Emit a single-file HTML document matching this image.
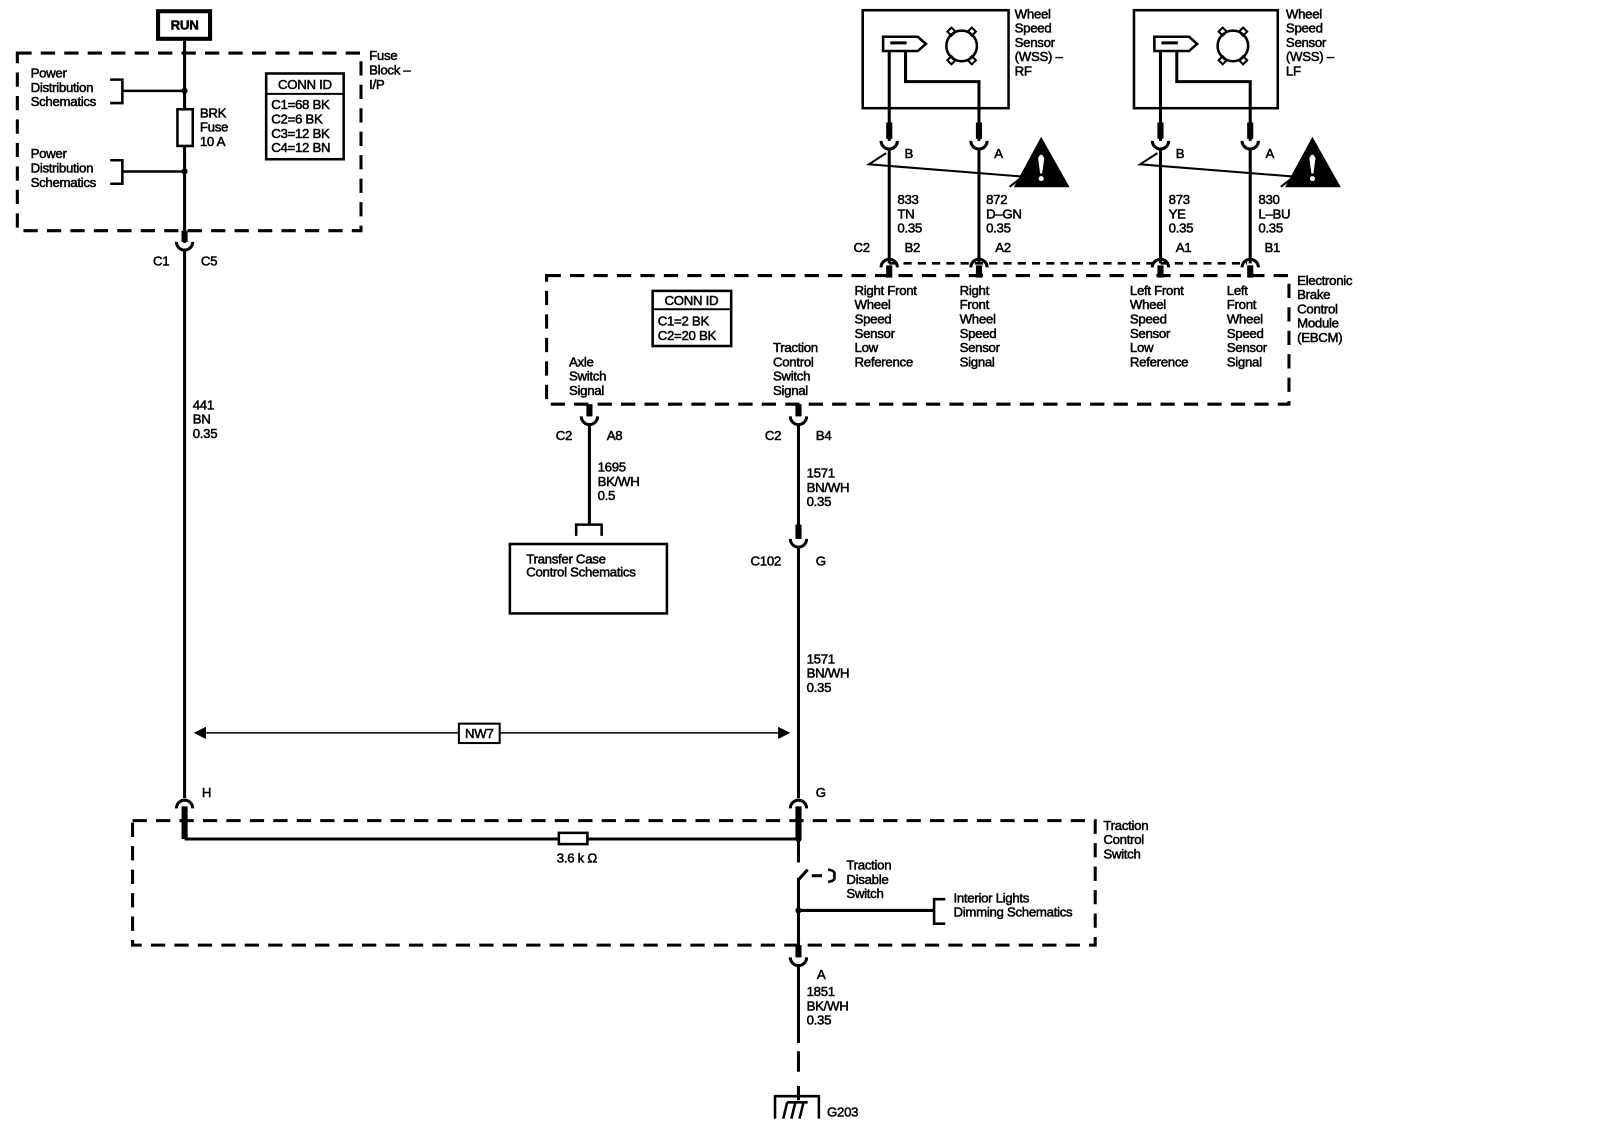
<!DOCTYPE html>
<html><head><meta charset="utf-8"><style>
html,body{margin:0;padding:0;background:#fff}
svg{display:block}
text{font-family:"Liberation Sans",Arial,sans-serif;font-size:13px;fill:#000;stroke:#000;stroke-width:0.5;letter-spacing:-0.3px}
</style></head><body>
<svg width="1600" height="1136" viewBox="0 0 1569 1113" preserveAspectRatio="none" xmlns="http://www.w3.org/2000/svg">
<g fill="none" stroke="#000">
<rect x="155" y="11" width="51" height="27" stroke-width="4"/>
<rect x="17" y="52" width="337" height="174" stroke-width="3" stroke-dasharray="14,9"/>
<line x1="181" y1="38" x2="181" y2="238" stroke-width="3"/>
<line x1="181" y1="226" x2="181" y2="237" stroke-width="6"/>
<path d="M173,237 a8,8 0 0 0 16,0" stroke-width="3"/>
<line x1="181" y1="245" x2="181" y2="782" stroke-width="3"/>
<path d="M108,78 H120 V101 H108" stroke-width="2.5"/>
<line x1="120" y1="89" x2="181" y2="89" stroke-width="2.5"/>
<path d="M108,157 H120 V180 H108" stroke-width="2.5"/>
<line x1="120" y1="168" x2="181" y2="168" stroke-width="2.5"/>
<rect x="174" y="107" width="15" height="36" fill="#fff" stroke-width="2.5"/>
<rect x="261" y="72" width="76" height="84" stroke-width="2.5"/>
<line x1="261" y1="92" x2="337" y2="92" stroke-width="2"/>
<line x1="196" y1="718" x2="768" y2="718" stroke-width="1.5"/>
<rect x="450" y="709" width="40" height="19" fill="#fff" stroke-width="2"/>
<path d="M173,792 a8,8 0 0 1 16,0" stroke-width="3"/>
<line x1="181" y1="790" x2="181" y2="822" stroke-width="6"/>
<line x1="181" y1="822" x2="783" y2="822" stroke-width="3"/>
<rect x="548" y="816" width="28" height="11" fill="#fff" stroke-width="2.5"/>
<rect x="130" y="804" width="944" height="122" stroke-width="3" stroke-dasharray="14,9"/>
<line x1="783" y1="396" x2="783" y2="408" stroke-width="6"/>
<path d="M775,408 a8,8 0 0 0 16,0" stroke-width="3"/>
<line x1="783" y1="416" x2="783" y2="526" stroke-width="3"/>
<line x1="783" y1="514" x2="783" y2="528" stroke-width="6"/>
<path d="M775,528 a8,8 0 0 0 16,0" stroke-width="3"/>
<line x1="783" y1="536" x2="783" y2="782" stroke-width="3"/>
<path d="M775,792 a8,8 0 0 1 16,0" stroke-width="3"/>
<line x1="783" y1="790" x2="783" y2="822" stroke-width="6"/>
<line x1="783" y1="822" x2="783" y2="845" stroke-width="3"/>
<line x1="783" y1="862" x2="792" y2="852" stroke-width="3"/>
<line x1="796" y1="858" x2="806" y2="858" stroke-width="3"/>
<path d="M812,852 Q820,853 818,858 Q820,863 812,864" stroke-width="2.5"/>
<line x1="783" y1="860" x2="783" y2="928" stroke-width="3"/>
<line x1="783" y1="892" x2="916" y2="892" stroke-width="3"/>
<path d="M927,881 H916 V905 H927" stroke-width="2.5"/>
<line x1="783" y1="926" x2="783" y2="938" stroke-width="6"/>
<path d="M775,938 a8,8 0 0 0 16,0" stroke-width="3"/>
<line x1="783" y1="946" x2="783" y2="1022" stroke-width="3"/>
<line x1="783" y1="1030" x2="783" y2="1078" stroke-width="3" stroke-dasharray="20,14"/>
<path d="M760,1096 V1074 H803 V1096" stroke-width="2.5"/>
<path d="M768,1096 L772,1080 M776,1096 L780,1080 M784,1096 L788,1080 M772,1080 H792" stroke-width="2.5"/>
<line x1="578" y1="396" x2="578" y2="408" stroke-width="6"/>
<path d="M570,408 a8,8 0 0 0 16,0" stroke-width="3"/>
<line x1="578" y1="416" x2="578" y2="514" stroke-width="3"/>
<path d="M565,525 V514 H590 V525" stroke-width="2.5"/>
<rect x="500" y="533" width="154" height="68" stroke-width="2.5"/>
<rect x="536" y="270" width="728" height="126" stroke-width="3" stroke-dasharray="14,9"/>
<rect x="640" y="285" width="77" height="54" stroke-width="2.5"/>
<line x1="640" y1="303" x2="717" y2="303" stroke-width="2"/>
<line x1="872" y1="258" x2="1223" y2="258" stroke-width="2.5" stroke-dasharray="8,6"/>
<rect x="846" y="10" width="143" height="96" stroke-width="2.5"/>
<rect x="1112" y="10" width="141" height="96" stroke-width="2.5"/>
</g>
<g id="rf" fill="none" stroke="#000">
<path d="M866,36 H900 L908,43 L900,50 H866 Z" stroke-width="2.5"/>
<line x1="873" y1="42" x2="889" y2="42" stroke-width="3"/>
<circle cx="943" cy="45" r="15" stroke-width="2.5"/>
<path d="M929,31 l4,-4 l4,4 l-4,4z M949,31 l4,-4 l4,4 l-4,4z M929,59 l4,-4 l4,4 l-4,4z M949,59 l4,-4 l4,4 l-4,4z" stroke-width="2"/>
<line x1="872" y1="50" x2="872" y2="138" stroke-width="3"/>
<line x1="872" y1="120" x2="872" y2="136" stroke-width="6"/>
<path d="M888,50 V80 H960 V138" stroke-width="3"/>
<line x1="960" y1="120" x2="960" y2="136" stroke-width="6"/>
<path d="M864,138 a8,8 0 0 0 16,0 M952,138 a8,8 0 0 0 16,0" stroke-width="3"/>
<line x1="872" y1="146" x2="872" y2="258" stroke-width="3"/>
<line x1="960" y1="146" x2="960" y2="258" stroke-width="3"/>
<path d="M869,150 L852,161 L1003,173 L990,183" stroke-width="2"/>
<path d="M864,262 a8,8 0 0 1 16,0 M952,262 a8,8 0 0 1 16,0" stroke-width="3"/>
<line x1="872" y1="260" x2="872" y2="272" stroke-width="6"/>
<line x1="960" y1="260" x2="960" y2="272" stroke-width="6"/>
<path d="M995,183 L1021,135 L1048,183 Z" fill="#000" stroke-width="1"/>
<path d="M1018,155 Q1021,148 1024,155 L1022,170 H1020 Z" fill="#fff" stroke="none"/>
<circle cx="1021" cy="175" r="2.5" fill="#fff" stroke="none"/>
</g>
<use href="#rf" x="266"/>
<g>
<text x="181" y="29" text-anchor="middle" style="font-size:13px;font-weight:bold">RUN</text>
<text x="362" y="59">Fuse</text><text x="362" y="73">Block –</text><text x="362" y="87">I/P</text>
<text x="30" y="76">Power</text><text x="30" y="90">Distribution</text><text x="30" y="104">Schematics</text>
<text x="30" y="155">Power</text><text x="30" y="169">Distribution</text><text x="30" y="183">Schematics</text>
<text x="196" y="115">BRK</text><text x="196" y="129">Fuse</text><text x="196" y="143">10 A</text>
<text x="299" y="87" text-anchor="middle">CONN ID</text>
<text x="266" y="107">C1=68 BK</text><text x="266" y="121">C2=6 BK</text><text x="266" y="135">C3=12 BK</text><text x="266" y="149">C4=12 BN</text>
<text x="150" y="260">C1</text><text x="197" y="260">C5</text>
<text x="189" y="401">441</text><text x="189" y="415">BN</text><text x="189" y="429">0.35</text>
<text x="470" y="723" text-anchor="middle">NW7</text>
<text x="198" y="781">H</text><text x="800" y="781">G</text>
<text x="546" y="845">3.6 k Ω</text>
<text x="1082" y="813">Traction</text><text x="1082" y="827">Control</text><text x="1082" y="841">Switch</text>
<text x="830" y="852">Traction</text><text x="830" y="866">Disable</text><text x="830" y="880">Switch</text>
<text x="935" y="884">Interior Lights</text><text x="935" y="898">Dimming Schematics</text>
<text x="801" y="959">A</text>
<text x="791" y="976">1851</text><text x="791" y="990">BK/WH</text><text x="791" y="1004">0.35</text>
<text x="811" y="1094">G203</text>
<text x="1272" y="279">Electronic</text><text x="1272" y="293">Brake</text><text x="1272" y="307">Control</text><text x="1272" y="321">Module</text><text x="1272" y="335">(EBCM)</text>
<text x="678" y="299" text-anchor="middle">CONN ID</text>
<text x="645" y="319">C1=2 BK</text><text x="645" y="333">C2=20 BK</text>
<text x="558" y="359">Axle</text><text x="558" y="373">Switch</text><text x="558" y="387">Signal</text>
<text x="758" y="345">Traction</text><text x="758" y="359">Control</text><text x="758" y="373">Switch</text><text x="758" y="387">Signal</text>
<text x="545" y="431">C2</text><text x="595" y="431">A8</text>
<text x="750" y="431">C2</text><text x="800" y="431">B4</text>
<text x="586" y="462">1695</text><text x="586" y="476">BK/WH</text><text x="586" y="490">0.5</text>
<text x="791" y="468">1571</text><text x="791" y="482">BN/WH</text><text x="791" y="496">0.35</text>
<text x="516" y="552">Transfer Case</text><text x="516" y="565">Control Schematics</text>
<text x="736" y="554">C102</text><text x="800" y="554">G</text>
<text x="791" y="650">1571</text><text x="791" y="664">BN/WH</text><text x="791" y="678">0.35</text>
<text x="995" y="18">Wheel</text><text x="995" y="32">Speed</text><text x="995" y="46">Sensor</text><text x="995" y="60">(WSS) –</text><text x="995" y="74">RF</text>
<text x="1261" y="18">Wheel</text><text x="1261" y="32">Speed</text><text x="1261" y="46">Sensor</text><text x="1261" y="60">(WSS) –</text><text x="1261" y="74">LF</text>
<text x="887" y="155">B</text><text x="975" y="155">A</text><text x="1153" y="155">B</text><text x="1241" y="155">A</text>
<text x="880" y="200">833</text><text x="880" y="214">TN</text><text x="880" y="228">0.35</text>
<text x="967" y="200">872</text><text x="967" y="214">D–GN</text><text x="967" y="228">0.35</text>
<text x="1146" y="200">873</text><text x="1146" y="214">YE</text><text x="1146" y="228">0.35</text>
<text x="1234" y="200">830</text><text x="1234" y="214">L–BU</text><text x="1234" y="228">0.35</text>
<text x="837" y="247">C2</text><text x="887" y="247">B2</text><text x="976" y="247">A2</text><text x="1153" y="247">A1</text><text x="1240" y="247">B1</text>
<text x="838" y="289">Right Front</text><text x="838" y="303">Wheel</text><text x="838" y="317">Speed</text><text x="838" y="331">Sensor</text><text x="838" y="345">Low</text><text x="838" y="359">Reference</text>
<text x="941" y="289">Right</text><text x="941" y="303">Front</text><text x="941" y="317">Wheel</text><text x="941" y="331">Speed</text><text x="941" y="345">Sensor</text><text x="941" y="359">Signal</text>
<text x="1108" y="289">Left Front</text><text x="1108" y="303">Wheel</text><text x="1108" y="317">Speed</text><text x="1108" y="331">Sensor</text><text x="1108" y="345">Low</text><text x="1108" y="359">Reference</text>
<text x="1203" y="289">Left</text><text x="1203" y="303">Front</text><text x="1203" y="317">Wheel</text><text x="1203" y="331">Speed</text><text x="1203" y="345">Sensor</text><text x="1203" y="359">Signal</text>
</g>
<path d="M190,718 l12,-6 v12 z M775,718 l-12,-6 v12 z" fill="#000"/>
<circle cx="181" cy="89" r="3" fill="#000"/><circle cx="181" cy="168" r="3" fill="#000"/>
<circle cx="783" cy="822" r="3" fill="#000"/><circle cx="783" cy="892" r="3" fill="#000"/>
</svg>
</body></html>
